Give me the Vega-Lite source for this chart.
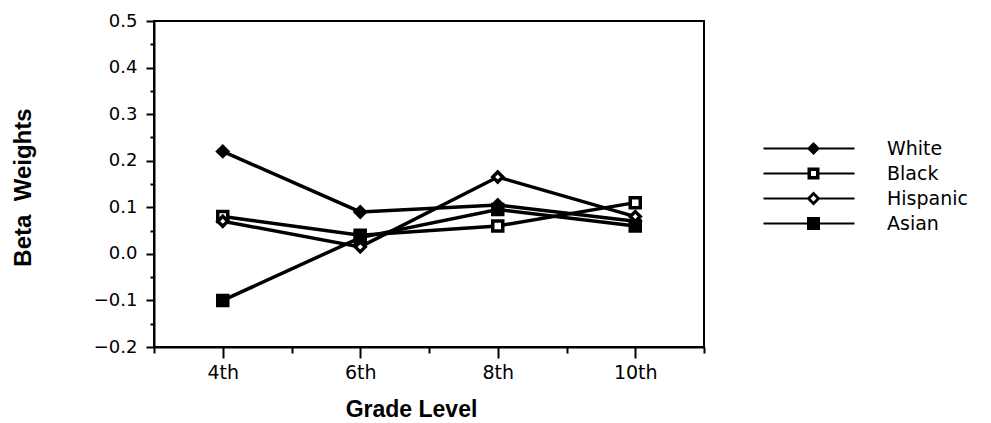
{
  "$schema": "https://vega.github.io/schema/vega-lite/v6.json",
  "width": 550,
  "height": 326,
  "autosize": {"type": "none"},
  "padding": {"left": 154, "top": 21, "right": 287, "bottom": 76},
  "background": "white",
  "config": {
    "view": {"stroke": "black", "strokeWidth": 2},
    "axis": {"domainColor": "black", "domainWidth": 2, "tickColor": "black", "tickWidth": 2, "grid": false, "labelColor": "black", "titleColor": "black"}
  },
  "data": {
    "values": [
      {"grade": 4, "group": "White", "beta": 0.22},
      {"grade": 6, "group": "White", "beta": 0.09},
      {"grade": 8, "group": "White", "beta": 0.105},
      {"grade": 10, "group": "White", "beta": 0.07},
      {"grade": 4, "group": "Black", "beta": 0.08},
      {"grade": 6, "group": "Black", "beta": 0.04},
      {"grade": 8, "group": "Black", "beta": 0.06},
      {"grade": 10, "group": "Black", "beta": 0.11},
      {"grade": 4, "group": "Hispanic", "beta": 0.07},
      {"grade": 6, "group": "Hispanic", "beta": 0.015},
      {"grade": 8, "group": "Hispanic", "beta": 0.165},
      {"grade": 10, "group": "Hispanic", "beta": 0.08},
      {"grade": 4, "group": "Asian", "beta": -0.1},
      {"grade": 6, "group": "Asian", "beta": 0.035},
      {"grade": 8, "group": "Asian", "beta": 0.095},
      {"grade": 10, "group": "Asian", "beta": 0.06}
    ]
  },
  "encoding": {
    "x": {
      "field": "grade", "type": "quantitative",
      "scale": {"domain": [3, 11], "nice": false, "zero": false},
      "axis": {
        "title": "Grade Level",
        "values": [3, 4, 5, 6, 7, 8, 9, 10, 11],
        "labelExpr": "datum.value % 2 == 0 ? datum.value + 'th' : ''",
        "tickSize": {"condition": {"test": "datum.value % 2 == 0", "value": 11}, "value": 6},
        "labelFont": "DejaVu Sans", "labelFontSize": 19, "labelPadding": 14, "labelBaseline": "middle",
        "titleFont": "Liberation Sans", "titleFontWeight": "bold", "titleFontSize": 23,
        "titleX": 257, "titleY": 62, "titleBaseline": "middle", "titleAlign": "center", "titleAnchor": null
      }
    },
    "y": {
      "field": "beta", "type": "quantitative",
      "scale": {"domain": [-0.2, 0.5], "nice": false, "zero": false},
      "axis": {
        "title": "Beta\u00a0\u00a0Weights",
        "values": [-0.2, -0.15, -0.1, -0.05, 0, 0.05, 0.1, 0.15, 0.2, 0.25, 0.3, 0.35, 0.4, 0.45, 0.5],
        "labelExpr": "abs(datum.value * 10 - round(datum.value * 10)) < 0.001 ? format(datum.value, '.1f') : ''",
        "tickSize": {"condition": {"test": "abs(datum.value * 10 - round(datum.value * 10)) < 0.001", "value": 8}, "value": 4},
        "labelFont": "DejaVu Sans", "labelFontSize": 18, "labelPadding": 9,
        "titleFont": "Liberation Sans", "titleFontWeight": "bold", "titleFontSize": 24,
        "titleX": -131, "titleY": 166, "titleAngle": -90, "titleBaseline": "middle", "titleAlign": "center", "titleAnchor": null
      }
    }
  },
  "layer": [
    {
      "mark": {"type": "point", "filled": true, "color": "black", "size": 100, "opacity": 0},
      "encoding": {
        "shape": {
          "field": "group", "type": "nominal",
          "scale": {"domain": ["White", "Black", "Hispanic", "Asian"], "range": [
            "M-10,-0.2H8.2V0.2H-10Z M-1.3,0L0,-1.3L1.3,0L0,1.3Z",
            "M-10,-0.2H-1.2V0.2H-10Z M1.2,-0.2H8.2V0.2H1.2Z M-1.2,-1.2H1.2V1.2H-1.2Z M-0.5,-0.5V0.5H0.5V-0.5Z",
            "M-10,-0.2H-1.1V0.2H-10Z M1.1,-0.2H8.2V0.2H1.1Z M-1.4,0L0,-1.4L1.4,0L0,1.4Z M-0.6,0L0,0.6L0.6,0L0,-0.6Z",
            "M-10,-0.2H8.2V0.2H-10Z M-1.3,-1.3H1.3V1.3H-1.3Z"
          ]},
          "legend": {
            "title": null,
            "orient": "none",
            "legendX": 650,
            "legendY": 118,
            "symbolSize": 100,
            "symbolFillColor": "black",
            "symbolStrokeWidth": 0,
            "symbolOpacity": 1,
            "labelFont": "DejaVu Sans",
            "labelFontSize": 19,
            "labelColor": "black",
            "labelOffset": 64,
            "rowPadding": 5
          }
        }
      }
    },
    {
      "mark": {"type": "line", "color": "black", "strokeWidth": 3.5},
      "encoding": {"detail": {"field": "group"}}
    },
    {
      "mark": {"type": "point", "filled": true, "stroke": "black", "strokeWidth": 3.5, "size": 100, "opacity": 1},
      "encoding": {
        "shape": {
          "field": "group", "type": "nominal",
          "scale": {"domain": ["White", "Black", "Hispanic", "Asian"], "range": ["diamond", "square", "diamond", "square"]},
          "legend": null
        },
        "fill": {
          "field": "group", "type": "nominal",
          "scale": {"domain": ["White", "Black", "Hispanic", "Asian"], "range": ["black", "white", "white", "black"]},
          "legend": null
        }
      }
    }
  ],
  "resolve": {"scale": {"shape": "independent"}, "legend": {"shape": "independent"}}
}
